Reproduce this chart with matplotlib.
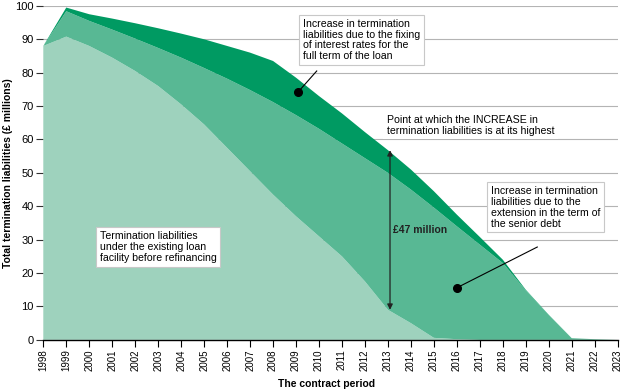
import numpy as np
import matplotlib.pyplot as plt

plt.rcParams['font.family'] = ['Liberation Sans', 'DejaVu Sans']

years = list(range(1998, 2024))

# termination liabilities, £ millions (stacked components)
existing = [88, 90.8, 88, 84.5, 80.5, 76, 70.5, 64.5, 57.5, 50.5, 43.5, 37, 31,
            25, 17.5, 9, 5, 0.6, 0.2, 0, 0, 0, 0, 0, 0, 0]
extension = [0, 7.6, 7.5, 8.4, 9.7, 11.4, 14.0, 16.9, 20.7, 24.3, 27.7, 30.3, 32.2,
             33.8, 36.9, 41.0, 40.0, 39.0, 33.8, 28.5, 23.0, 14.8, 7.4, 0.5, 0.2, 0]
fixing = [0, 1.1, 2.0, 3.3, 4.6, 5.9, 7.2, 8.6, 9.8, 11.2, 12.3, 11.2, 9.8,
          9.0, 7.8, 6.8, 6.0, 4.9, 3.5, 2.3, 1.0, 0.2, 0.1, 0, 0, 0]

c_light = '#9ed2bd'
c_mid = '#58b894'
c_dark = '#009a62'

fig = plt.figure(figsize=(6.23, 3.92), dpi=100)
ax = fig.add_axes([0.0695, 0.133, 0.922, 0.852])

ax.stackplot(years, existing, extension, fixing,
             colors=[c_light, c_mid, c_dark], linewidth=0, zorder=2)

ax.set_xlim(1998, 2023)
ax.set_ylim(0, 100)
ax.set_yticks(range(0, 101, 10))
ax.set_xticks(years)
ax.set_xticklabels([str(y) for y in years], rotation=90, fontsize=7)
ax.tick_params(axis='y', labelsize=8, length=5, color='#333333', pad=2)
ax.tick_params(axis='x', length=5, color='black', pad=2)
ax.grid(axis='y', color='#b4b4b4', lw=0.8, zorder=0)
ax.set_axisbelow(True)
for s in ['top', 'right', 'left']:
    ax.spines[s].set_visible(False)
ax.spines['bottom'].set_linewidth(1.0)

ax.set_xlabel('The contract period', fontsize=7.5, fontweight='bold')
ax.xaxis.set_label_coords(0.493, -0.117)
ax.set_ylabel('Total termination liabilities (£ millions)', fontsize=7.5,
              fontweight='bold')
ax.yaxis.set_label_coords(-0.052, 0.5)

box = dict(boxstyle='square,pad=0.35', fc='white', ec='#c8c8c8', lw=0.8)
fs = 7.6

ax.text(2009.3, 96.2, 'Increase in termination\nliabilities due to the fixing\n'
        'of interest rates for the\nfull term of the loan',
        fontsize=fs, va='top', ha='left', bbox=box, zorder=5, linespacing=1.12)
ax.plot([2009.1, 2009.9], [74.3, 80.5], color='black', lw=0.8, zorder=4)
ax.plot(2009.1, 74.3, 'o', color='black', ms=5.5, zorder=4)

ax.text(2017.47, 46.1, 'Increase in termination\nliabilities due to the\n'
        'extension in the term of\nthe senior debt',
        fontsize=fs, va='top', ha='left', bbox=box, zorder=5, linespacing=1.12)
ax.plot([2016.0, 2019.5], [15.6, 27.8], color='black', lw=0.8, zorder=4)
ax.plot(2016.0, 15.6, 'o', color='black', ms=5.5, zorder=4)

ax.text(2000.47, 32.6, 'Termination liabilities\nunder the existing loan\n'
        'facility before refinancing',
        fontsize=fs, va='top', ha='left', bbox=box, zorder=5, linespacing=1.12)

ax.text(2012.96, 67.4, 'Point at which the INCREASE in\n'
        'termination liabilities is at its highest',
        fontsize=fs, va='top', ha='left', zorder=5, linespacing=1.12,
        bbox=dict(boxstyle='square,pad=0.35', fc='white', ec='none'))

ax.annotate('', xy=(2013.09, 56.8), xytext=(2013.09, 9),
            arrowprops=dict(arrowstyle='<|-|>', color='#222222', lw=0.9,
                            mutation_scale=8, shrinkA=0, shrinkB=0), zorder=5)
ax.text(2013.2, 33, '£47 million', fontsize=7.5, fontweight='bold',
        va='center', ha='left', color='#222222', zorder=5)

fig.savefig('out.png', dpi=100)
